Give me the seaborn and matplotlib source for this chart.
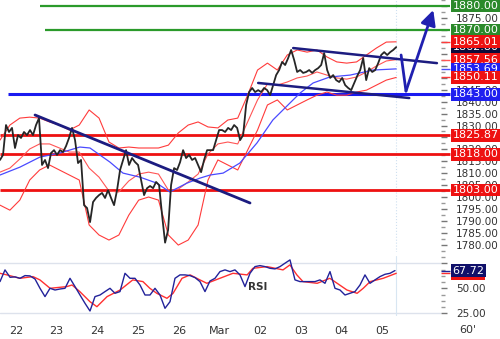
import numpy as np
import pandas as pd
import matplotlib
matplotlib.use("Agg")
import matplotlib.pyplot as plt
from matplotlib.ticker import MultipleLocator
import seaborn as sns

sns.set_style("white")
plt.rcParams['font.family'] = ['DejaVu Sans']

# ---------------- data ----------------
day_labels = ['22', '23', '24', '25', '26', 'Mar', '02', '03', '04', '05']
day_pos = list(range(len(day_labels)))

close = [
    1815.6, 1817.7, 1830.2, 1827.3, 1829.0, 1820.6, 1826.0, 1824.8, 1827.3, 1826.0,
    1828.1, 1826.0, 1830.2, 1833.1, 1813.5, 1815.6, 1812.2, 1818.5, 1819.7, 1817.7,
    1819.7, 1818.9, 1821.4, 1824.8, 1829.0, 1823.9, 1814.3, 1815.6, 1796.7, 1795.5,
    1789.6, 1798.0, 1799.7, 1800.9, 1801.8, 1799.7, 1803.0, 1799.7, 1796.7, 1803.0,
    1811.4, 1815.6, 1819.7, 1813.5, 1816.4, 1814.7, 1813.5, 1807.2, 1800.9, 1803.8,
    1804.7, 1803.8, 1806.4, 1805.1, 1792.5, 1781.0, 1786.3, 1805.1, 1812.2, 1811.4,
    1814.7, 1819.7, 1816.4, 1817.7, 1815.6, 1816.4, 1813.5, 1810.5, 1815.6, 1819.7,
    1819.7, 1819.7, 1823.9, 1828.1, 1828.1, 1827.3, 1829.0, 1828.1, 1830.2, 1829.0,
    1823.9, 1826.0, 1838.6, 1844.0, 1845.7, 1844.0, 1844.8, 1844.0, 1845.7, 1844.8,
    1842.7, 1846.9, 1851.1, 1853.2, 1856.6, 1855.3, 1858.2, 1861.6, 1857.4, 1852.4,
    1853.2, 1852.0, 1852.4, 1853.2, 1852.0, 1853.2, 1854.0, 1855.3, 1860.3, 1853.2,
    1849.9, 1851.1, 1849.0, 1848.2, 1849.9, 1846.9, 1845.7, 1844.8, 1847.8, 1850.7,
    1853.2, 1858.2, 1849.0, 1854.0, 1852.4, 1853.2, 1856.1, 1859.5, 1860.7, 1859.5,
    1860.7, 1861.6, 1862.8,
]
close_t = np.linspace(-0.39, 9.34, len(close))

band_upper = [
    1823.9, 1830.2, 1833.1, 1833.5, 1833.1, 1831.5, 1830.2, 1828.1, 1830.2, 1836.5,
    1833.1, 1823.1, 1820.6, 1821.0, 1820.6, 1820.6, 1820.6, 1821.8, 1826.9, 1830.2,
    1831.5, 1829.4, 1829.0, 1832.3, 1833.1, 1842.7, 1853.2, 1856.1, 1853.2, 1859.5,
    1861.6, 1860.7, 1861.6, 1858.7, 1856.6, 1856.1, 1856.6, 1859.5, 1862.4, 1864.9,
    1865.01,
]
band_mid = [
    1810.5, 1812.2, 1816.0, 1820.2, 1822.3, 1822.3, 1820.6, 1818.9, 1818.9, 1812.2,
    1808.4, 1802.6, 1802.2, 1806.8, 1809.7, 1810.5, 1809.7, 1803.0, 1803.4, 1806.4,
    1809.7, 1818.1, 1822.3, 1823.1, 1822.3, 1831.5, 1840.7, 1847.4, 1846.9, 1848.2,
    1849.9, 1850.7, 1852.4, 1851.1, 1849.9, 1849.4, 1850.3, 1852.4, 1854.9, 1857.0,
    1857.56,
]
band_lower = [
    1796.7, 1794.6, 1798.8, 1807.2, 1811.4, 1813.5, 1811.4, 1809.3, 1807.2, 1788.4,
    1784.2, 1782.1, 1784.2, 1792.5, 1798.8, 1800.1, 1798.8, 1784.2, 1780.0, 1782.1,
    1788.4, 1807.2, 1815.6, 1813.5, 1811.4, 1819.7, 1828.1, 1838.6, 1840.7, 1836.5,
    1838.6, 1840.7, 1842.7, 1844.0, 1842.7, 1842.7, 1844.0, 1844.8, 1846.9, 1849.0,
    1850.11,
]
band_t = np.linspace(-0.39, 9.34, len(band_upper))

ma_t = [-0.39, 0.10, 0.59, 1.08, 1.57, 1.82, 2.31, 2.63, 3.05, 3.46, 3.78, 4.20, 4.52,
        4.77, 5.09, 5.50, 5.92, 6.31, 6.73, 6.98, 7.30, 7.71, 8.21, 8.77, 9.34]
ma_blue = [1809.3, 1812.6, 1816.8, 1818.5, 1821.0, 1820.6, 1814.7, 1810.1, 1808.4,
           1805.9, 1802.2, 1805.9, 1808.0, 1809.3, 1810.1, 1814.3, 1822.7, 1832.3,
           1839.4, 1843.6, 1847.8, 1850.3, 1851.1, 1853.2, 1853.69]

rsi = [
    56.7, 68.4, 61.0, 61.4, 60.0, 62.7, 62.4, 59.3, 50.0, 41.7,
    50.0, 48.3, 49.3, 50.0, 60.0, 51.7, 43.3, 35.0, 27.3, 41.7,
    43.3, 46.7, 50.0, 45.0, 46.7, 65.0, 60.0, 60.0, 53.3, 43.3,
    43.3, 50.0, 43.3, 30.0, 36.6, 60.0, 63.4, 63.4, 62.7, 60.7,
    56.7, 46.7, 57.3, 60.0, 66.7, 68.4, 66.7, 68.4, 63.4, 51.7,
    65.0, 71.7, 72.7, 71.7, 70.0, 69.4, 71.7, 75.1, 78.4, 58.4,
    56.7, 56.7, 56.7, 56.7, 58.4, 55.0, 66.7, 50.0, 48.3, 43.3,
    45.0, 46.7, 53.3, 63.4, 55.0, 58.4, 61.7, 64.0, 65.0, 67.72,
]
rsi_t = np.linspace(-0.39, 9.31, len(rsi))

rsi_sig_t = [-0.39, -0.22, 0.10, 0.42, 0.59, 0.84, 1.25, 1.38, 1.57, 1.82, 1.99, 2.24,
             2.56, 2.87, 3.12, 3.29, 3.46, 3.71, 3.86, 4.08, 4.28, 4.52, 4.69, 5.01,
             5.33, 5.68, 5.82, 6.17, 6.56, 6.73, 6.90, 7.05, 7.40, 7.71, 7.89, 8.13,
             8.38, 8.53, 8.70, 9.02, 9.34]
rsi_sig = [65.0, 63.4, 60.0, 61.7, 58.4, 50.0, 51.7, 53.3, 46.7, 36.6, 31.6, 41.7,
           48.3, 58.4, 56.7, 50.0, 45.0, 40.0, 45.0, 60.0, 63.4, 58.4, 55.0, 60.0,
           65.0, 63.4, 70.0, 71.7, 68.4, 73.4, 63.4, 56.7, 55.0, 60.0, 55.0, 48.3,
           45.0, 50.0, 56.7, 60.0, 65.0]

levels_red = [1825.87, 1818.00, 1803.00]
levels_green = [1880.00, 1870.00]
levels_green_start = [0.59, 0.71]
level_blue = 1843.00
level_blue_start = -0.20

trend_down_t, trend_down_p = [0.47, 5.75], [1834.4, 1797.6]
chan_top_t, chan_top_p = [6.81, 10.34], [1862.4, 1856.1]
chan_bot_t, chan_bot_p = [5.95, 9.66], [1847.8, 1841.5]
proj_t, proj_p = [9.46, 9.58, 10.25], [1859.5, 1844.4, 1878.3]
last_t = 9.34

price_ticks = list(range(1780, 1885, 5))
hidden_price_labels = [1880, 1870, 1865, 1860, 1855, 1850, 1825]
rsi_ticks = [25, 50, 75]

# label boxes: (value, colour)
price_boxes = [
    (1862.80, '#0b0b3a'),
    (1880.00, '#2b8a2b'), (1870.00, '#2b8a2b'),
    (1865.01, '#ee1111'), (1857.56, '#ee1111'), (1853.69, '#2020f0'),
    (1850.11, '#ee1111'), (1843.00, '#2020f0'),
    (1825.87, '#ee1111'), (1818.00, '#ee1111'), (1803.00, '#ee1111'),
]
rsi_boxes = [(65.0, '#ee1111'), (67.72, '#10106a')]

# ---------------- figure ----------------
W, H = 500, 339
fig = plt.figure(figsize=(W / 100, H / 100), dpi=100)
ax = fig.add_axes([0, 1 - 252 / H, 441 / W, 252 / H])
axr = fig.add_axes([0, 1 - 316 / H, 441 / W, 60 / H])

XL = (-0.39, 10.44)
XBOX = 10.66
RED = '#ee1111'
NAVY = '#1c1c80'

# horizontal levels
for lv in levels_red:
    ax.hlines(lv, XL[0], XBOX, color=RED, lw=2.0, zorder=2, clip_on=False)
for lv, st in zip(levels_green, levels_green_start):
    ax.hlines(lv, st, XBOX, color='#2b9a2b', lw=1.6, zorder=2, clip_on=False)
ax.hlines(level_blue, level_blue_start, XBOX, color='#1a1af0', lw=2.2, zorder=2, clip_on=False)

# Bollinger bands + MA
sns.lineplot(x=band_t, y=band_upper, ax=ax, color='#ff3b3b', lw=0.8, zorder=3)
sns.lineplot(x=band_t, y=band_mid, ax=ax, color='#ff5555', lw=0.8, zorder=3)
sns.lineplot(x=band_t, y=band_lower, ax=ax, color='#ff3b3b', lw=0.8, zorder=3)
sns.lineplot(x=ma_t, y=ma_blue, ax=ax, color='#4a4aff', lw=0.9, zorder=3)

# price
sns.lineplot(x=close_t, y=close, ax=ax, color='#262626', lw=1.3, zorder=4)

# trend lines
sns.lineplot(x=trend_down_t, y=trend_down_p, ax=ax, color=NAVY, lw=2.0, zorder=5)
sns.lineplot(x=chan_top_t, y=chan_top_p, ax=ax, color=NAVY, lw=1.8, zorder=5)
sns.lineplot(x=chan_bot_t, y=chan_bot_p, ax=ax, color=NAVY, lw=1.8, zorder=5)
sns.lineplot(x=proj_t[:2], y=proj_p[:2], ax=ax, color='#2020b0', lw=2.0, zorder=5)
ax.annotate('', xy=(proj_t[2], proj_p[2]), xytext=(proj_t[1], proj_p[1]),
            arrowprops=dict(arrowstyle='-|>,head_length=0.9,head_width=0.45',
                            color='#2020b0', lw=2.0, shrinkA=0, shrinkB=0), zorder=6,
            annotation_clip=False)

ax.axvline(last_t, color='#cfe0f0', lw=0.8, ls=':', zorder=1)

ax.set_xlim(*XL)
ax.set_ylim(1777.1, 1882.5)
ax.set_xticks([])
ax.yaxis.tick_right()
ax.set_yticks(price_ticks)
ax.set_yticklabels(['' if v in hidden_price_labels else f'{v:.2f}' for v in price_ticks])
ax.yaxis.set_minor_locator(MultipleLocator(2.5))
ax.tick_params(axis='y', which='major', direction='out', length=4, width=1,
               color='#777777', pad=7, labelsize=7.5, labelcolor='#333333')
ax.tick_params(axis='y', which='minor', direction='out', length=3, width=1,
               color='#999999')
for s in ax.spines.values():
    s.set_visible(False)
ax.set_xlabel('')
ax.set_ylabel('')

# stubs from indicator lines into their boxes
for v, c in [(1865.01, '#ff3b3b'), (1857.56, '#ff5555'), (1850.11, '#ff3b3b'), (1853.69, '#4a4aff')]:
    ax.hlines(v, 10.44, XBOX, color=c, lw=1.0, clip_on=False)

trans = ax.get_yaxis_transform()
for v, c in price_boxes:
    ax.text(1.026, v, f'{v:.2f}', transform=trans, ha='left', va='center',
            fontsize=8, color='white', clip_on=False, zorder=10,
            bbox=dict(boxstyle='square,pad=0.12', fc=c, ec='none'))

# ---------------- RSI panel ----------------
axr.axhline(75, color='#dde2ec', lw=1.0, zorder=1)
axr.axhline(25, color='#dde2ec', lw=1.0, zorder=1)
axr.axvline(last_t, color='#d8e6f2', lw=0.8, zorder=1)
sns.lineplot(x=rsi_sig_t, y=rsi_sig, ax=axr, color='#ff3030', lw=1.0, zorder=3)
sns.lineplot(x=rsi_t, y=rsi, ax=axr, color='#22229a', lw=1.0, zorder=4)
axr.text(5.95, 51, 'RSI', fontsize=7.5, color='#333333', fontweight='bold',
         ha='center', va='center')

axr.set_xlim(*XL)
axr.set_ylim(22.3, 82.3)
axr.set_xticks(day_pos)
axr.set_xticklabels(day_labels)
axr.yaxis.tick_right()
axr.set_yticks(rsi_ticks)
axr.set_yticklabels(['25.00', '50.00', ''])
axr.yaxis.set_minor_locator(MultipleLocator(6.25))
axr.tick_params(axis='x', direction='out', length=3, width=1, color='#555555',
                pad=4, labelsize=8, labelcolor='#333333')
axr.tick_params(axis='y', which='major', direction='out', length=4, width=1,
                color='#777777', pad=7, labelsize=7.5, labelcolor='#333333')
axr.tick_params(axis='y', which='minor', direction='out', length=3, width=1,
                color='#999999')
for s in axr.spines.values():
    s.set_visible(False)
axr.set_xlabel('')
axr.set_ylabel('')

transr = axr.get_yaxis_transform()
for v, c in rsi_boxes:
    axr.text(1.026, v, f'{v:.2f}', transform=transr, ha='left', va='center',
             fontsize=8, color='white', clip_on=False, zorder=10,
             bbox=dict(boxstyle='square,pad=0.12', fc=c, ec='none'))
axr.hlines(rsi_sig[-1], 10.44, XBOX, color='#ff3030', lw=1.0, clip_on=False)
axr.hlines(rsi[-1], 10.44, XBOX, color='#22229a', lw=1.0, clip_on=False)

fig.text(468 / W, 1 - 330 / H, "60'", fontsize=8, color='#333333', ha='center', va='center')

fig.savefig('out.png', dpi=100)
